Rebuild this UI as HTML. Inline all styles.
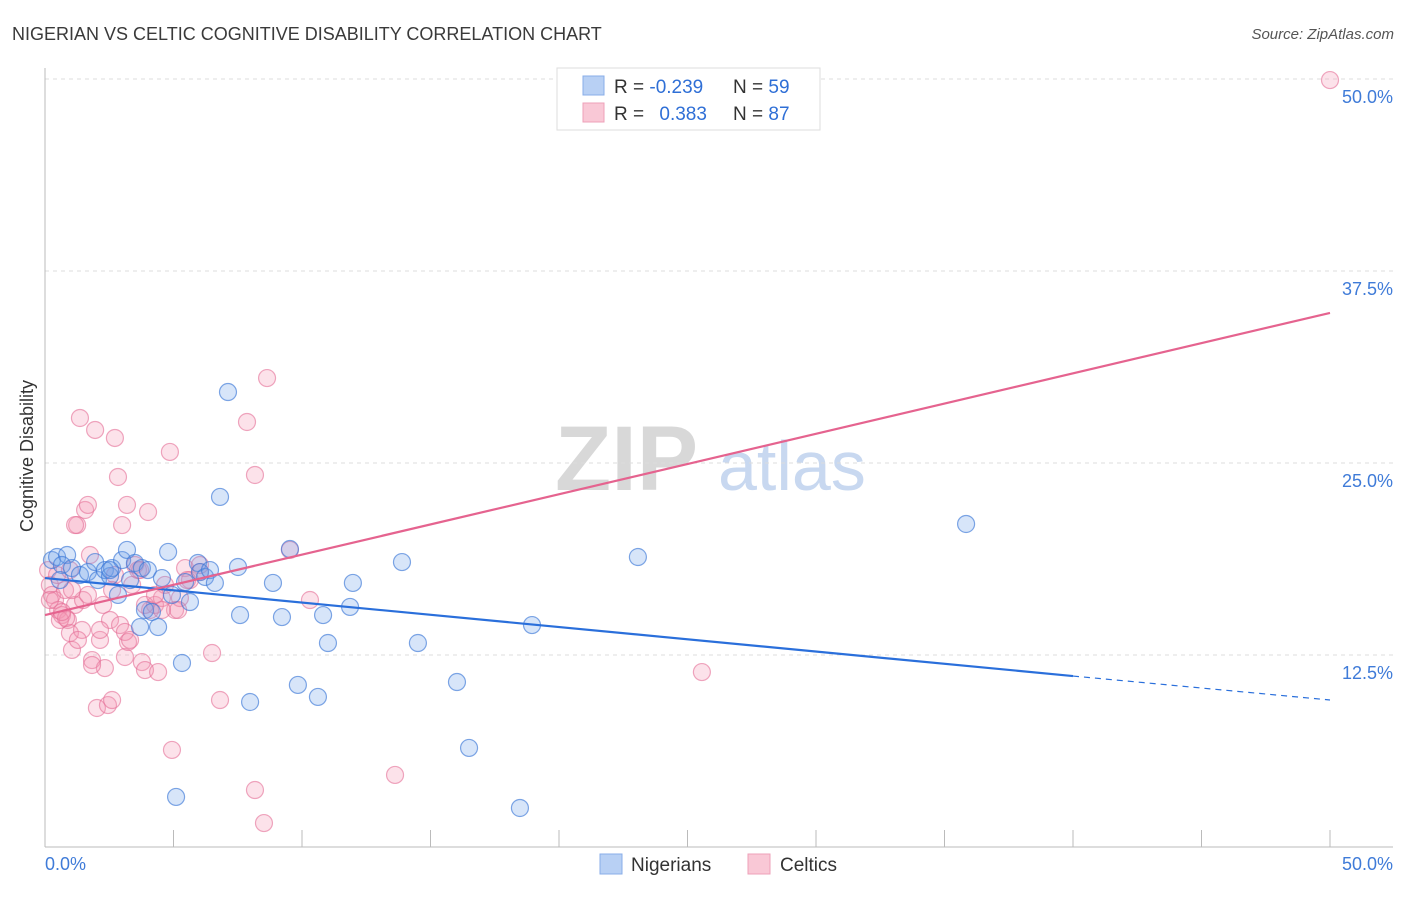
<!DOCTYPE html>
<html><head><meta charset="utf-8"><style>
body{margin:0;background:#fff;font-family:"Liberation Sans",sans-serif;}
svg text{font-family:"Liberation Sans",sans-serif;}
</style></head><body>
<svg id="chart" width="1406" height="892" xmlns="http://www.w3.org/2000/svg">
<text x="12" y="40" font-size="18" fill="#3a3a3a">NIGERIAN VS CELTIC COGNITIVE DISABILITY CORRELATION CHART</text>
<text x="1394" y="39" font-size="15" fill="#555" font-style="italic" text-anchor="end">Source: ZipAtlas.com</text>
<text x="555" y="490" font-size="92" fill="#d8d8d8" font-family="Liberation Serif, serif" font-weight="bold">ZIP</text>
<text x="718" y="490" font-size="70" fill="#c8d8f0">atlas</text>
<g id="grid"></g>
<g id="axes"></g>
<g id="marks"></g>
<text transform="translate(33,456) rotate(-90)" font-size="18" fill="#333" text-anchor="middle">Cognitive Disability</text>
<g>
<rect x="557" y="68" width="263" height="62" fill="#fff" stroke="#ddd"/>
<rect x="583" y="76" width="21" height="19" fill="#b8d0f4" stroke="#88aee8"/>
<rect x="583" y="103" width="21" height="19" fill="#f9c8d6" stroke="#eea0b8"/>
<text x="614" y="93" font-size="19" fill="#333">R = <tspan fill="#2f6fd6">-0.239</tspan></text>
<text x="733" y="93" font-size="19" fill="#333">N = <tspan fill="#2f6fd6">59</tspan></text>
<text x="614" y="120" font-size="19" fill="#333">R = <tspan fill="#2f6fd6" dx="10">0.383</tspan></text>
<text x="733" y="120" font-size="19" fill="#333">N = <tspan fill="#2f6fd6">87</tspan></text>
</g>
<g>
<rect x="600" y="854" width="22" height="20" fill="#b8d0f4" stroke="#88aee8"/>
<text x="631" y="871" font-size="19" fill="#333">Nigerians</text>
<rect x="748" y="854" width="22" height="20" fill="#f9c8d6" stroke="#eea0b8"/>
<text x="780" y="871" font-size="19" fill="#333">Celtics</text>
</g>
</svg>
<script>
const yTicks=[12.5,25,37.5,50];
const yTickLabels=["12.5%","25.0%","37.5%","50.0%"];
const xEndLabels=["0.0%","50.0%"];
const nigX=[0.27,0.47,0.86,0.66,1.05,1.36,1.67,1.95,2.06,2.33,2.53,2.61,2.84,3.0,3.19,3.31,3.5,3.77,3.89,4.0,4.16,4.4,4.55,4.79,4.94,5.33,5.45,5.64,5.95,6.03,6.23,6.42,6.61,6.81,7.12,7.51,7.59,7.98,8.87,9.22,9.53,9.84,10.62,10.82,11.01,11.98,11.87,13.89,14.51,16.03,16.5,18.48,18.95,23.07,35.84,5.1,3.7,2.53,0.58];
const nigY=[18.68,18.88,19.01,18.36,18.16,17.71,17.9,18.55,17.38,18.03,17.64,18.16,16.41,18.68,19.34,17.38,18.49,18.16,15.43,18.03,15.3,14.32,17.51,19.21,16.41,11.98,17.25,15.95,18.49,17.9,17.58,18.03,17.19,22.79,29.62,18.23,15.1,9.44,17.19,14.97,19.4,10.55,9.77,15.1,13.28,17.19,15.63,18.55,13.28,10.74,6.45,2.54,14.45,18.88,21.03,3.26,14.32,18.03,17.38];
const celX=[.19,.27,.39,.51,.66,.78,.89,.97,1.05,1.17,1.25,1.36,1.44,1.56,1.67,1.75,1.83,1.95,2.02,2.14,2.26,2.33,2.45,2.53,2.61,2.72,2.84,2.92,3.0,3.11,3.19,3.23,3.39,3.5,3.62,3.77,3.89,4.01,4.09,4.28,4.4,4.55,4.86,4.94,5.06,5.25,5.45,5.64,6.03,6.5,6.81,7.86,8.17,8.17,8.52,8.64,9.53,10.31,13.62,25.56,50,.12,.19,.47,.58,.82,1.48,1.67,2.14,1.83,.66,.97,1.17,2.72,3.11,2.61,3.31,3.7,3.89,4.67,5.18,5.53,4.55,4.28,6.03,1.05,1.28];
const celY=[17.06,16.41,16.08,15.43,15.1,16.73,14.78,13.93,12.83,15.76,20.96,27.93,14.13,21.94,22.27,19.01,12.17,27.15,9.05,13.48,15.76,11.65,9.24,14.78,9.57,26.63,24.09,14.45,20.96,12.37,22.27,13.35,17.06,18.36,18.03,12.04,11.52,21.81,15.43,15.76,11.39,16.21,25.72,6.32,15.43,16.21,18.16,17.38,17.9,12.63,9.57,27.67,24.22,3.71,1.56,30.53,19.34,16.08,4.69,11.39,49.93,18.03,16.08,17.71,14.78,14.91,16.08,16.41,14.13,11.85,15.3,18.03,20.96,17.71,14.0,16.73,13.48,18.03,15.76,17.06,15.43,17.38,15.43,16.41,18.36,16.73,13.48];
const nigTrend=[17.51,11.13,9.57]; // at x=0, 40, 50
const celTrend=[15.1,34.77]; // at x=0, 50
const X0=45,X1=1330,Y0=847,Y50=79;
const sx=v=>X0+(X1-X0)*v/50;
const sy=v=>Y0-(Y0-Y50)*v/50;
const NS="http://www.w3.org/2000/svg";
function mk(parent,tag,attrs){const e=document.createElementNS(NS,tag);for(const k in attrs)e.setAttribute(k,attrs[k]);parent.appendChild(e);return e;}
const grid=document.getElementById('grid'),axes=document.getElementById('axes'),marks=document.getElementById('marks');
yTicks.forEach((t,i)=>{
 const g=mk(grid,'line',{x1:45,x2:1393,y1:sy(t),y2:sy(t),stroke:'#ddd','stroke-dasharray':'4,4'});
 
 
 const tx=mk(axes,'text',{x:1393,y:sy(t)+24,'font-size':18,fill:'#3f7bd8','text-anchor':'end'});
 tx.textContent=yTickLabels[i];
 
 
});
const al=mk(axes,'line',{x1:45,x2:45,y1:68,y2:847,stroke:'#bbb'});


const bl=mk(axes,'line',{x1:45,x2:1393,y1:847,y2:847,stroke:'#bbb'});


for(let i=0;i<=10;i++){
 const t=mk(axes,'line',{x1:sx(i*5),x2:sx(i*5),y1:830,y2:847,stroke:'#bbb'});
 
 
}
[[0,'start'],[50,'end']].forEach((p,i)=>{
 const t=mk(axes,'text',{x:i?1393:45,y:870,'font-size':18,fill:'#3f7bd8','text-anchor':p[1]});
 t.textContent=xEndLabels[i];
 
 
});
celX.forEach((x,i)=>{
 const c=mk(marks,'circle',{cx:sx(x),cy:sy(celY[i]),r:8.5,fill:'rgba(244,150,180,0.28)',stroke:'rgba(228,110,150,0.6)','stroke-width':1.2});
 
 
});
nigX.forEach((x,i)=>{
 const c=mk(marks,'circle',{cx:sx(x),cy:sy(nigY[i]),r:8.5,fill:'rgba(110,160,235,0.28)',stroke:'rgba(60,120,215,0.65)','stroke-width':1.2});
 
 
});
const l1=mk(marks,'line',{x1:sx(0),y1:sy(nigTrend[0]),x2:sx(40),y2:sy(nigTrend[1]),stroke:'#2a6fdb','stroke-width':2.2});


const l2=mk(marks,'line',{x1:sx(40),y1:sy(nigTrend[1]),x2:sx(50),y2:sy(nigTrend[2]),stroke:'#2a6fdb','stroke-width':1.2,'stroke-dasharray':'6,5'});


const l3=mk(marks,'line',{x1:sx(0),y1:sy(celTrend[0]),x2:sx(50),y2:sy(celTrend[1]),stroke:'#e5638f','stroke-width':2.2});


</script>
</body></html>
